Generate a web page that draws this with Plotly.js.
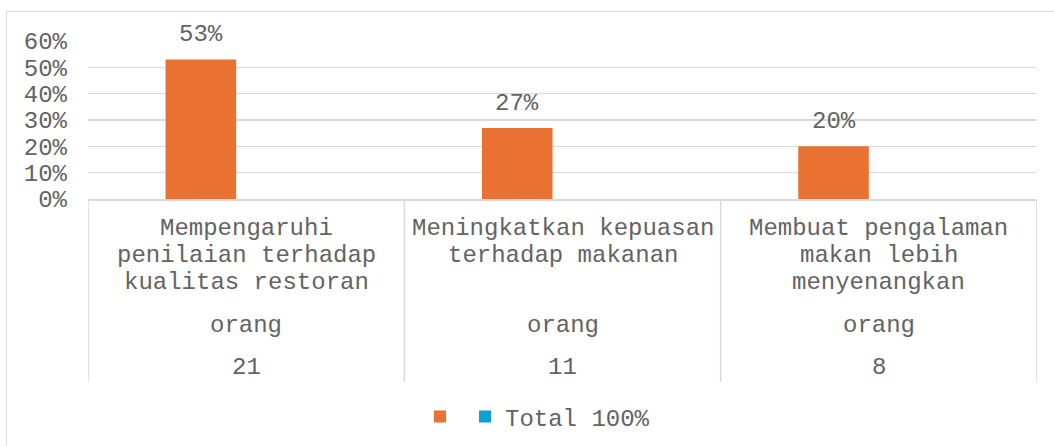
<!DOCTYPE html>
<html>
<head>
<meta charset="utf-8">
<script src="https://cdn.plot.ly/plotly-3.0.1.min.js"></script>
<style>
  html, body { margin: 0; padding: 0; background: #fff; }
  #wrap { position: relative; width: 1054px; height: 446px; overflow: hidden; }
  #chart { position: absolute; left: 0; top: 0; width: 1054px; height: 446px; }
  #frame { position: absolute; left: 6px; top: 11px; width: 1100px; height: 500px;
           border: 1.5px solid #d9d9d9; pointer-events: none; box-sizing: border-box; }
</style>
</head>
<body>
<div id="wrap">
  <div id="chart"></div>
  <div id="frame"></div>
</div>
<script>
// ---- data ----
const categories = [
  "Mempengaruhi<br>penilaian terhadap<br>kualitas restoran",
  "Meningkatkan kepuasan<br>terhadap makanan",
  "Membuat pengalaman<br>makan lebih<br>menyenangkan"
];
const unitLabels = ["orang", "orang", "orang"];
const counts = [21, 11, 8];
const percentValues = [0.53, 0.27, 0.20];
const totalValues = [null, null, null];
const seriesNames = ["", "Total 100%"];
const yTickVals = [0, 0.1, 0.2, 0.3, 0.4, 0.5, 0.6];

// ---- style ----
const FONT = "Liberation Mono, Courier New, monospace";
const TXT = "#636363";
const GRID = "#d9d9d9";
const ORANGE = "#E97132";
const BLUE = "#0F9ED5";
const W = 1054, H = 446;
const M = { l: 88, r: 17, t: 41, b: 247, autoexpand: false };
const plotH = H - M.t - M.b;
const pxToPaperY = px => (H - M.b - px) / plotH;
const BARGAP = 0.427;
const groupOffset = -(1 - BARGAP) / 4;

const traces = [
  {
    type: "bar",
    name: seriesNames[0],
    x: categories,
    y: percentValues,
    marker: { color: ORANGE },
    hoverinfo: "skip"
  },
  {
    type: "bar",
    name: seriesNames[1],
    x: categories,
    y: totalValues,
    marker: { color: BLUE },
    hoverinfo: "skip"
  }
];

const annotations = [];
const shapes = [];

// data labels
percentValues.forEach((v, i) => {
  annotations.push({
    xref: "x", yref: "y", x: i + groupOffset, y: v,
    text: Math.round(v * 100) + "%",
    showarrow: false, yanchor: "bottom", yshift: 9,
    font: { family: FONT, size: 24, color: TXT }
  });
});

// category table labels
categories.forEach((c, i) => {
  c.split("<br>").forEach((line, j) => {
    annotations.push({
      xref: "x", yref: "paper", x: i, y: pxToPaperY(228 + 27.3 * j),
      text: line, showarrow: false, yanchor: "middle",
      font: { family: FONT, size: 24, color: TXT }
    });
  });
  annotations.push({
    xref: "x", yref: "paper", x: i, y: pxToPaperY(325),
    text: unitLabels[i], showarrow: false, yanchor: "middle",
    font: { family: FONT, size: 24, color: TXT }
  });
  annotations.push({
    xref: "x", yref: "paper", x: i, y: pxToPaperY(367),
    text: String(counts[i]), showarrow: false, yanchor: "middle",
    font: { family: FONT, size: 24, color: TXT }
  });
});

// table divider lines
for (let k = 0; k <= categories.length; k++) {
  shapes.push({
    type: "line", xref: "x", yref: "paper",
    x0: k - 0.5, x1: k - 0.5, y0: 0, y1: pxToPaperY(382),
    line: { color: GRID, width: 1.5 }
  });
}

const layout = {
  width: W, height: H,
  margin: M,
  paper_bgcolor: "rgba(0,0,0,0)",
  plot_bgcolor: "rgba(0,0,0,0)",
  barmode: "group",
  bargap: BARGAP,
  bargroupgap: 0.221,
  showlegend: true,
  legend: {
    orientation: "h",
    x: (420 - M.l) / (W - M.l - M.r), xanchor: "left",
    y: pxToPaperY(417), yanchor: "middle",
    font: { family: FONT, size: 24, color: TXT },
    itemwidth: 30,
    traceorder: "normal"
  },
  xaxis: {
    type: "category",
    range: [-0.5, 2.5],
    showticklabels: false,
    ticks: "",
    showgrid: false,
    showline: true, linecolor: GRID, linewidth: 1.5,
    zeroline: false,
    fixedrange: true
  },
  yaxis: {
    range: [0, 0.6],
    tickvals: yTickVals,
    tickformat: ".0%",
    showgrid: true, gridcolor: GRID, gridwidth: 1.5,
    zeroline: false,
    showline: false,
    ticks: "",
    ticklabelstandoff: 20,
    tickfont: { family: FONT, size: 24, color: TXT },
    fixedrange: true
  },
  annotations: annotations,
  shapes: shapes,
  font: { family: FONT, color: TXT }
};

Plotly.newPlot("chart", traces, layout, { displayModeBar: false, staticPlot: true });
</script>
</body>
</html>
